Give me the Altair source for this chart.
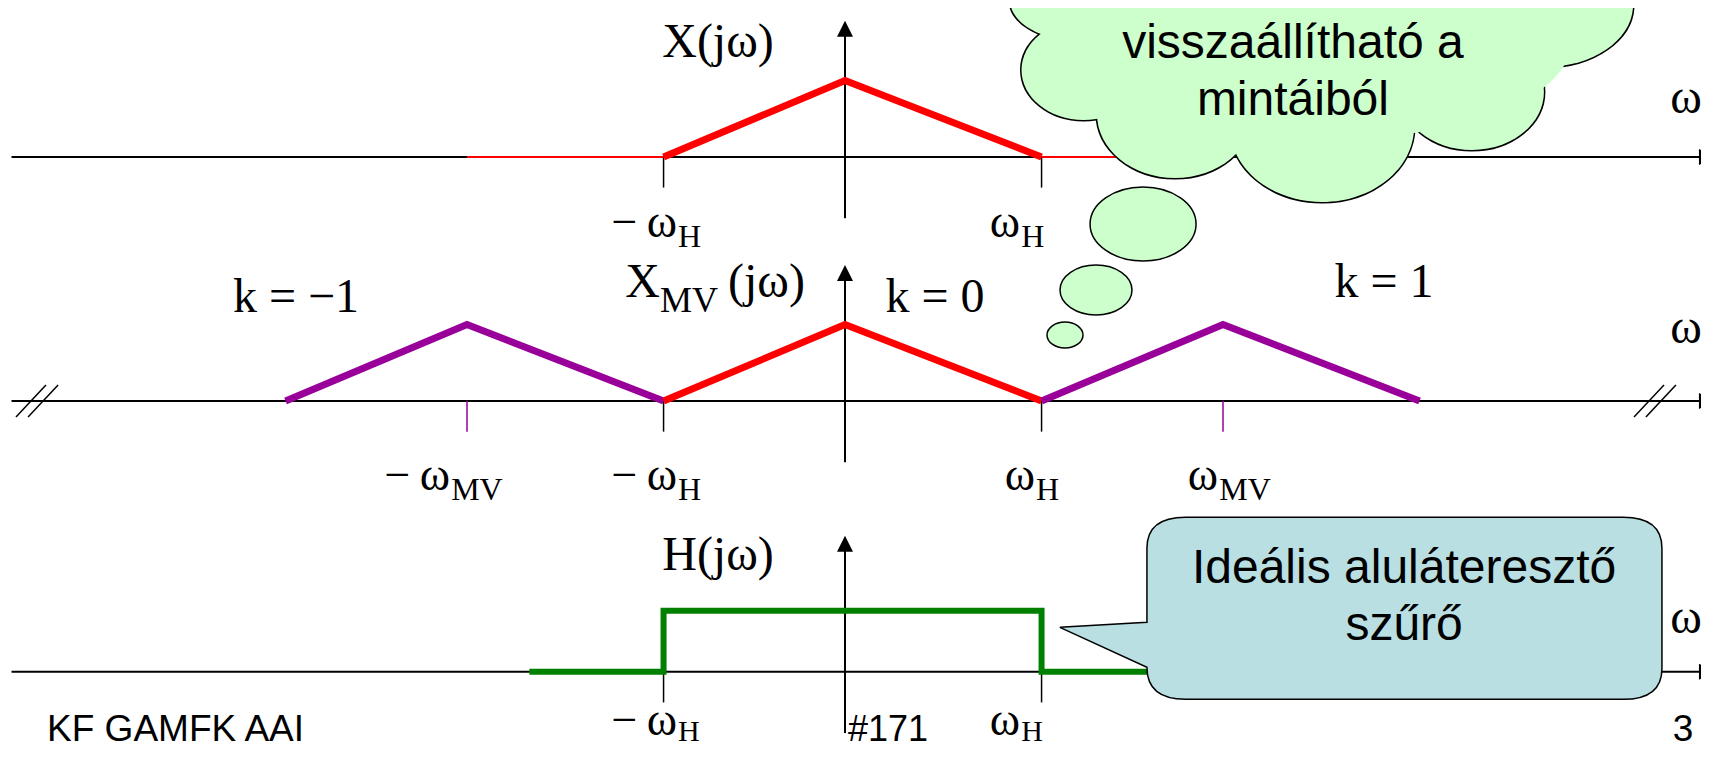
import altair as alt
import pandas as pd

# ---------------- values ----------------
# omega in units of omega_MV/2 ; amplitude in units of max|X(jw)|
spectrum_w = [-0.96, 0.0, 1.04]          # X(jw): -wH, 0, wH
spectrum_amp = [0.0, 1.0, 0.0]
replica_k = [-1, 0, 1]
replica_shift = [-2.0, 0.0, 2.0]          # k * w_MV
thin_red_w = [[-2.0, -0.96], [1.04, 2.0]]  # zero part of X(jw) drawn in red
filter_w = [-1.67, -0.96, -0.96, 1.04, 1.04, 1.75]
filter_amp = [0.0, 0.0, 0.8, 0.8, 0.0, 0.0]
ticks_top = [-0.96, 1.04]
ticks_mid = [-2.0, -0.96, 1.04, 2.0]
ticks_bottom = [-0.96, 1.04]

# ---------------- layout / style ----------------
W, H = 1693, 744
X_DOMAIN = [-4.4286, 4.5291]
Y_DOMAIN = [-7.7778, 1.9477]
BASE = [0.0, -3.19, -6.73]   # baseline of the three panels
RED, PURPLE, GREEN = "#ff0000", "#990099", "#008000"
CLOUD_FILL, CALLOUT_FILL = "#ccffcc", "#b9dfe3"
SERIF, SANS = "Liberation Serif", "Liberation Sans"

xs = alt.Scale(domain=X_DOMAIN, nice=False, zero=False)
ys = alt.Scale(domain=Y_DOMAIN, nice=False, zero=False)
X = lambda f="w": alt.X(f"{f}:Q", scale=xs, axis=None)
Y = lambda f="v": alt.Y(f"{f}:Q", scale=ys, axis=None)

layers = []

# axes (horizontal)
hax = pd.DataFrame({"w": [-4.41] * 3, "w2": [4.6] * 3, "v": BASE})
layers.append(alt.Chart(hax).mark_rule(color="black", strokeWidth=2).encode(
    x=X(), x2="w2:Q", y=Y()))
# axes (vertical)
vax = pd.DataFrame({"w": [0.0] * 3, "v": [b - 0.8 for b in BASE], "v2": [b + 1.649 for b in BASE]})
layers.append(alt.Chart(vax).mark_rule(color="black", strokeWidth=2).encode(
    x=X(), y=Y(), y2="v2:Q"))

# arrow heads
UP = "M 0 -1 L 0.8 0.6 L -0.8 0.6 Z"
RIGHT = "M 1 0 L -0.6 0.8 L -0.6 -0.8 Z"
arrows = pd.DataFrame({
    "w": [0.0] * 3 + [4.55] * 3,
    "v": [b + 1.649 for b in BASE] + BASE,
    "shape": [UP] * 3 + [RIGHT] * 3,
})
layers.append(alt.Chart(arrows).mark_point(filled=True, fill="black", opacity=1, size=400).encode(
    x=X(), y=Y(), shape=alt.Shape("shape:N", scale=None)))

# ticks
trows = []
for w in ticks_top:
    trows.append({"w": w, "v": BASE[0], "v2": BASE[0] - 0.4, "c": "black"})
for w in ticks_mid:
    trows.append({"w": w, "v": BASE[1], "v2": BASE[1] - 0.4,
                  "c": PURPLE if abs(w) > 1.5 else "black"})
for w in ticks_bottom:
    trows.append({"w": w, "v": BASE[2], "v2": BASE[2] - 0.4, "c": "black"})
layers.append(alt.Chart(pd.DataFrame(trows)).mark_rule(strokeWidth=1.5).encode(
    x=X(), y=Y(), y2="v2:Q", stroke=alt.Stroke("c:N", scale=None)))

# double slashes on middle axis
srows = []
for cx in [-4.307, -4.243, 4.254, 4.317]:
    srows.append({"w": cx - 0.0794, "w2": cx + 0.0794, "v": BASE[1] - 0.21, "v2": BASE[1] + 0.21})
layers.append(alt.Chart(pd.DataFrame(srows)).mark_rule(color="black", strokeWidth=1.5).encode(
    x=X(), x2="w2:Q", y=Y(), y2="v2:Q"))

# thin red zero parts of X(jw)
rows = []
for i, seg in enumerate(thin_red_w):
    for j, w in enumerate(seg):
        rows.append({"seg": i, "ord": j, "w": w, "v": BASE[0]})
layers.append(alt.Chart(pd.DataFrame(rows)).mark_line(color=RED, strokeWidth=2).encode(
    x=X(), y=Y(), detail="seg:N", order="ord:Q"))

# thick spectra
rows = []
for j, (w, a) in enumerate(zip(spectrum_w, spectrum_amp)):
    rows.append({"seg": "X", "ord": j, "w": w, "v": BASE[0] + a, "c": RED})
for k, sh in zip(replica_k, replica_shift):
    for j, (w, a) in enumerate(zip(spectrum_w, spectrum_amp)):
        rows.append({"seg": f"k{k}", "ord": j, "w": w + sh, "v": BASE[1] + a,
                     "c": RED if k == 0 else PURPLE})
for j, (w, a) in enumerate(zip(filter_w, filter_amp)):
    rows.append({"seg": "H", "ord": j, "w": w, "v": BASE[2] + a, "c": GREEN})
lines = pd.DataFrame(rows)
layers.append(alt.Chart(lines[lines.seg != "H"]).mark_line(strokeWidth=7, strokeJoin="miter").encode(
    x=X(), y=Y(), detail="seg:N", order="ord:Q", stroke=alt.Stroke("c:N", scale=None)))
layers.append(alt.Chart(lines[lines.seg == "H"]).mark_line(strokeWidth=6, strokeJoin="miter").encode(
    x=X(), y=Y(), detail="seg:N", order="ord:Q", stroke=alt.Stroke("c:N", scale=None)))


def ellipse(r):
    k = 0.5523
    return (f"M 1 0 C 1 {k*r:.4f} {k} {r:.4f} 0 {r:.4f} C {-k} {r:.4f} -1 {k*r:.4f} -1 0 "
            f"C -1 {-k*r:.4f} {-k} {-r:.4f} 0 {-r:.4f} C {k} {-r:.4f} 1 {-k*r:.4f} 1 0 Z")


# cloud: union of ellipses (outline pass, then fill pass)
cloud = pd.DataFrame({
    "w": [1.217, 1.262, 1.746, 2.524, 3.317, 3.704],
    "v": [2.052, 1.137, 0.562, 0.392, 0.850, 1.987],
    "rx": [65, 62, 78, 92, 72, 88],
    "ry": [40, 50, 64, 75, 58, 62],
})
cloud["size"] = (2 * cloud.rx) ** 2
cloud["shape"] = [ellipse(ry / rx) for rx, ry in zip(cloud.rx, cloud.ry)]
interior = pd.DataFrame({"w": [2.513], "v": [1.464], "size": [500 ** 2], "shape": [ellipse(95 / 250)]})
layers.append(alt.Chart(cloud).mark_point(filled=True, fill=CLOUD_FILL, stroke="black",
                                          strokeWidth=3, opacity=1).encode(
    x=X(), y=Y(), size=alt.Size("size:Q", scale=None), shape=alt.Shape("shape:N", scale=None)))
fillpass = pd.concat([cloud[["w", "v", "size", "shape"]], interior])
layers.append(alt.Chart(fillpass).mark_point(filled=True, fill=CLOUD_FILL, strokeWidth=0, opacity=1).encode(
    x=X(), y=Y(), size=alt.Size("size:Q", scale=None), shape=alt.Shape("shape:N", scale=None)))

# thought bubbles
bub = pd.DataFrame({
    "w": [1.577, 1.328, 1.164],
    "v": [-0.876, -1.739, -2.327],
    "rx": [53, 36, 18],
    "ry": [37, 25, 13],
})
bub["size"] = (2 * bub.rx) ** 2
bub["shape"] = [ellipse(ry / rx) for rx, ry in zip(bub.rx, bub.ry)]
layers.append(alt.Chart(bub).mark_point(filled=True, fill=CLOUD_FILL, stroke="black",
                                        strokeWidth=1.5, opacity=1).encode(
    x=X(), y=Y(), size=alt.Size("size:Q", scale=None), shape=alt.Shape("shape:N", scale=None)))

# callout
CALLOUT = ("M -0.85 -0.3534 L 0.85 -0.3534 Q 1 -0.3534 1 -0.2334 L 1 0.2334 Q 1 0.3534 0.85 0.3534 "
           "L -0.85 0.3534 Q -1 0.3534 -1 0.229 L -1.338 0.0738 L -1 0.0544 L -1 -0.2334 "
           "Q -1 -0.3534 -0.85 -0.3534 Z")
call = pd.DataFrame({"w": [2.960], "v": [-5.90], "size": [515 ** 2], "shape": [CALLOUT]})
layers.append(alt.Chart(call).mark_point(filled=True, fill=CALLOUT_FILL, stroke="black",
                                         strokeWidth=1.5, opacity=1).encode(
    x=X(), y=Y(), size=alt.Size("size:Q", scale=None), shape=alt.Shape("shape:N", scale=None)))

# ---------------- texts ----------------
texts = []  # (text, w, v, font, size, align)
def T(t, w, v, font=SERIF, size=48, align="center"):
    texts.append({"t": t, "w": w, "v": v, "font": font, "fs": size, "al": align})

T("X(jω)", -0.672, BASE[0] + 1.307)
T("H(jω)", -0.672, BASE[2] + 1.333)
T("X", -0.979, BASE[1] + 1.36, align="right")
T("MV", -0.979, BASE[1] + 1.163, size=36, align="left")
T("(jω)", -0.619, BASE[1] + 1.36, align="left")
T("k = −1", -2.905, BASE[1] + 1.163)
T("k = 0", 0.476, BASE[1] + 1.163)
T("k = 1", 2.852, BASE[1] + 1.36)
for b, vv in zip(BASE, [0.575, 0.758, 0.51]):
    T("ω", 4.45, b + vv)

tick_labels = [
    (0, -0.889, "−\u2009ω", "H"), (0, 0.926, "ω", "H"),
    (1, -2.09, "−\u2009ω", "MV"), (1, -0.889, "−\u2009ω", "H"),
    (1, 1.005, "ω", "H"), (1, 1.974, "ω", "MV"),
    (2, -0.889, "−\u2009ω", "H"), (2, 0.926, "ω", "H"),
]
lab_rel = [-1.046, -1.163, -0.82]
sub_drop = [0.13, 0.13, 0.09]
for p, w, main, sub in tick_labels:
    T(main, w, BASE[p] + lab_rel[p], size=46, align="right")
    T(sub, w + 0.006, BASE[p] + lab_rel[p] - sub_drop[p], size=32 if p < 2 else 30, align="left")

T("visszaállítható a", 2.37, 1.294, font=SANS, size=48)
T("mintáiból", 2.37, 0.549, font=SANS, size=48)
T("Ideális aluláteresztő", 2.958, -5.569, font=SANS, size=48)
T("szűrő", 2.958, -6.314, font=SANS, size=48)
T("KF GAMFK AAI", -4.222, BASE[2] - 0.90, font=SANS, size=37, align="left")
T("#171", 0.016, BASE[2] - 0.90, font=SANS, size=36, align="left")
T("3", 4.38, BASE[2] - 0.90, font=SANS, size=37, align="left")

tdf = pd.DataFrame(texts)
for (font, fs, al), g in tdf.groupby(["font", "fs", "al"]):
    layers.append(alt.Chart(g).mark_text(font=font, fontSize=float(fs), align=al,
                                         baseline="alphabetic", color="black").encode(
        x=X(), y=Y(), text="t:N"))

chart = alt.layer(*layers).properties(
    width=W, height=H, padding=0, background="white",
    autosize=alt.AutoSizeParams(type="none"),
).configure_view(stroke=None)

chart.save("out.html", embed_options={"renderer": "svg", "actions": False})
